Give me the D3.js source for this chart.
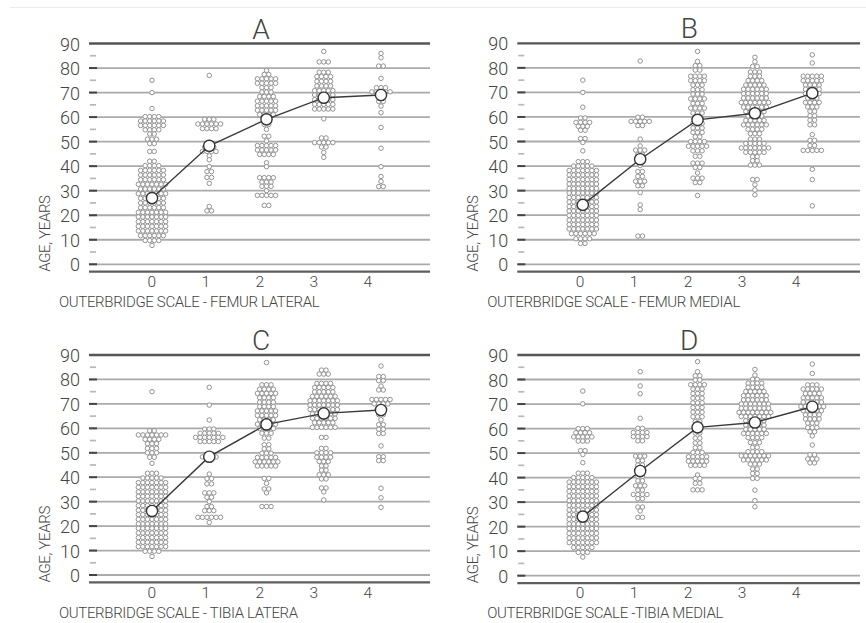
<!DOCTYPE html>
<html>
<head>
<meta charset="utf-8">
<script src="https://cdn.jsdelivr.net/npm/d3@7"></script>
<style>
  body { margin: 0; background: #fff; }
  svg text { font-family: Roboto, "Helvetica Neue", Arial, sans-serif; font-weight: 300; fill: #444; }
</style>
</head>
<body>
<svg id="chart" width="866" height="623"></svg>
<script>
// Outerbridge grade categories and the age axis
const categories = [0, 1, 2, 3, 4];
const ageTicks = [0, 10, 20, 30, 40, 50, 60, 70, 80, 90];
const ageMinorTicks = [5, 15, 25, 35, 45, 55, 65, 75, 85];

const panelTitles = ["A", "B", "C", "D"];
const axisTitles = [
  "OUTERBRIDGE SCALE - FEMUR LATERAL",
  "OUTERBRIDGE SCALE - FEMUR MEDIAL",
  "OUTERBRIDGE SCALE - TIBIA LATERA",
  "OUTERBRIDGE SCALE -TIBIA MEDIAL"
];
const ageTitle = "AGE, YEARS";

// Mean age per grade
const meanFemurLateral = [27, 48.3, 59.1, 67.9, 69];
const meanFemurMedial  = [24.2, 42.8, 58.8, 61.5, 69.7];
const meanTibiaLateral = [26.2, 48.4, 61.6, 66.1, 67.5];
const meanTibiaMedial  = [24.1, 42.7, 60.5, 62.5, 68.9];

// Individual patients per grade, stacked as [age, number of patients in that row]
const femurLateral = [
  [[75,1],[70,1],[63.5,1],[60.2,4],[58.4,6],[56.6,6],[54.8,4],[53.1,2],[51,3],[49.2,2],[46,2],[42,2],[40.2,4],[38.3,6],[36.4,6],[34.5,6],[32.6,7],[30.7,6],[28.8,7],[26.9,6],[25,6],[23.1,6],[21.2,7],[19.3,7],[17.4,7],[15.5,7],[13.6,7],[11.7,6],[9.7,4],[7.7,1]],
  [[77,1],[59.1,3],[57.2,6],[55.3,4],[49.6,1],[47.8,3],[46,4],[44.2,1],[42.6,1],[39.8,1],[37.8,2],[35.4,2],[33,1],[23.6,1],[21.8,2]],
  [[79,1],[77.4,2],[75.6,5],[73.8,5],[72,3],[70.2,3],[68.4,4],[66.5,5],[64.6,5],[62.8,5],[61,4],[59.2,2],[57,2],[55,1],[52.2,2],[50.3,1],[48.4,5],[46.6,5],[44.8,4],[41.4,1],[39.8,1],[35.3,4],[33.5,3],[31.8,3],[30,1],[28.1,5],[24,2]],
  [[86.8,1],[82.5,3],[78.3,3],[76.5,4],[74.6,4],[72.7,4],[70.8,5],[69,5],[67.1,5],[65.2,5],[63.3,5],[59.3,1],[51.5,2],[49.6,5],[47.8,2],[45.6,1],[43.6,1]],
  [[86,1],[84.2,1],[80.8,2],[75.8,1],[72,3],[70.3,5],[68.4,2],[66.4,2],[64.5,1],[61.8,1],[55.8,1],[47.3,1],[39.8,1],[35.8,1],[33.8,1],[31.7,2]]
];
const femurMedial = [
  [[75,1],[70,1],[64,1],[59.6,2],[57.8,4],[56.2,3],[54.6,2],[51.2,2],[49.6,1],[46.2,1],[41.8,3],[40,5],[38.2,7],[36.4,7],[34.5,7],[32.7,7],[30.9,7],[29,7],[27.2,7],[25.4,7],[23.5,7],[21.7,7],[19.9,7],[18,7],[16.2,7],[14.4,7],[12.5,6],[10.4,4],[8.5,2]],
  [[82.8,1],[59.9,2],[58.2,5],[56.5,2],[51,1],[48.2,1],[46.5,3],[44.7,2],[40.2,1],[37.8,2],[35.8,2],[33.8,3],[32,2],[29.2,1],[24.2,1],[22.3,1],[11.5,2]],
  [[86.7,1],[82.6,1],[80.9,2],[79.1,2],[76.6,4],[74.8,4],[73,3],[71.1,3],[69.3,3],[67.4,4],[65.5,3],[63.6,4],[61.6,3],[59.5,2],[57.4,3],[55.5,3],[53.7,3],[51.9,2],[50,4],[48.1,5],[46.2,3],[44,2],[41.2,3],[39.4,2],[37.2,1],[35.1,3],[33.3,2],[28,1]],
  [[84.3,1],[82.5,1],[80.6,2],[78.3,3],[76.6,3],[74.8,4],[73,5],[71.3,6],[69.5,6],[67.7,6],[65.9,7],[64,6],[62.2,5],[60.4,4],[58.6,5],[56.8,6],[55,4],[53.2,3],[51,3],[49.2,5],[47.4,7],[45.6,5],[43.8,2],[42.2,2],[40.4,3],[34.5,2],[32.4,1],[30.3,1],[28.3,1]],
  [[85.3,1],[82,1],[76.6,5],[74.8,5],[73,4],[71.3,4],[69.5,4],[67.7,3],[65.9,4],[64.1,3],[62.3,2],[60.5,2],[58.7,2],[56.8,2],[52.8,1],[50.5,2],[48.4,2],[46.4,5],[38.7,1],[34.5,1],[23.8,1]]
];
const tibiaLateral = [
  [[75,1],[59,2],[57.3,7],[55.5,4],[53.7,3],[51.8,3],[50,3],[48.2,2],[45.7,1],[41.6,3],[39.7,5],[37.8,7],[35.9,7],[34,7],[32.2,7],[30.3,7],[28.4,7],[26.5,7],[24.7,7],[22.8,7],[20.9,7],[19.1,7],[17.2,7],[15.3,7],[13.4,7],[11.6,7],[9.7,4],[7.6,1]],
  [[76.8,1],[69.5,1],[63.4,1],[59.7,3],[58,5],[56.3,7],[54.6,5],[48.3,4],[41.3,1],[39.4,2],[37.3,2],[33.6,3],[31.8,2],[30,1],[28,2],[26.3,3],[23.6,6],[21.5,1]],
  [[86.9,1],[77.8,3],[76,4],[74.3,5],[72.5,4],[70.7,4],[68.9,4],[67.1,5],[65.3,5],[63.5,4],[61.7,5],[59.9,4],[58,3],[56,2],[53.3,2],[51.6,2],[49.8,3],[48.1,5],[46.3,6],[44.6,5],[39.5,2],[37.5,1],[35.2,2],[33.6,1],[28,3]],
  [[83.8,2],[82.2,3],[78.4,4],[76.7,5],[74.9,5],[73.1,6],[71.3,7],[69.5,7],[67.7,7],[65.9,6],[64.1,6],[62.3,5],[60.4,6],[56.3,2],[51.8,2],[50,4],[48.2,4],[46.4,3],[44.6,2],[42.9,2],[41,3],[39.3,2],[35.6,2],[34,1],[30.7,1]],
  [[85.5,1],[81.2,2],[79.5,2],[77.3,1],[75.7,2],[71.8,5],[70,4],[68.3,2],[65.6,2],[63.5,1],[61.5,2],[59.6,2],[57.9,2],[52.8,1],[48.4,2],[46.8,2],[35.5,1],[31.6,1],[27.7,1]]
];
const tibiaMedial = [
  [[75.3,1],[70.1,1],[60,3],[58.3,4],[56.6,5],[54.9,3],[51,2],[49.4,1],[46.1,1],[41.8,3],[40,5],[38.2,7],[36.3,7],[34.4,7],[32.5,7],[30.6,7],[28.7,7],[26.8,7],[24.9,7],[23,7],[21.1,7],[19.2,7],[17.3,7],[15.4,7],[13.5,7],[11.5,5],[9.5,3],[7.6,1]],
  [[83.2,1],[77.4,1],[74.2,1],[64.2,1],[60.1,2],[58.4,4],[56.7,4],[55,2],[48.8,3],[46.9,2],[45.1,2],[40.5,2],[38.7,2],[36.7,3],[34.9,2],[33.1,4],[31.4,2],[28,2],[26.4,1],[23.8,2]],
  [[87.3,1],[83.2,1],[81.5,2],[79.8,2],[77.9,4],[76.1,3],[74.3,3],[72.4,3],[70.5,3],[68.6,3],[66.7,3],[64.8,3],[62.8,2],[60.6,1],[58.2,2],[56.1,2],[54.1,2],[52.2,2],[50.3,3],[48.5,5],[46.7,5],[45,4],[41.1,1],[39.6,2],[37.7,2],[35,3]],
  [[84.1,1],[81.8,1],[80.1,2],[78.5,4],[76.8,4],[75.1,5],[73.4,6],[71.7,6],[70,7],[68.3,7],[66.6,8],[64.9,7],[63.2,5],[61.4,5],[59.7,5],[58,6],[56.3,4],[54.3,3],[52.3,2],[50.6,4],[48.9,7],[47.2,6],[45.5,3],[43.5,2],[41.7,2],[39.7,2],[34.9,1],[30.6,1],[28.1,1]],
  [[86.3,1],[82.5,1],[77.8,3],[76.1,5],[74.3,4],[72.5,5],[70.8,5],[69,6],[67.3,5],[65.6,4],[63.9,4],[62.2,3],[60.4,3],[58.7,2],[57,1],[53.3,1],[49.3,2],[47.6,3],[46,2]]
];

const panelDots = [femurLateral, femurMedial, tibiaLateral, tibiaMedial];
const panelMeans = [meanFemurLateral, meanFemurMedial, meanTibiaLateral, meanTibiaMedial];

// Panel frames: plot left/right edge, pixel row of age 90 and age 0, swarm inset
const frames = [
  { left: 89,    right: 430, top: 43.5, zero: 264.3, swarm: [63, 292] },
  { left: 517.3, right: 860, top: 43.3, zero: 264.3, swarm: [65.5, 295] },
  { left: 89,    right: 430, top: 355,  zero: 575,   swarm: [63, 292] },
  { left: 517.3, right: 860, top: 355,  zero: 575.7, swarm: [65.5, 295] }
];

const svg = d3.select("#chart");
const PITCH = 4.55, DOT_R = 2.25;

// faint border line at the top
svg.append("line").attr("x1", 10).attr("x2", 866).attr("y1", 7.5).attr("y2", 7.5)
  .attr("stroke", "#ececec").attr("stroke-width", 1);

// Place dots of one grade in horizontal rows centred on cx; rows that sit too
// close to the previous one are shifted by half a step so they interlock.
function layoutRows(rows, cx, y) {
  const sorted = rows.map(([age, n]) => ({ age, n, py: y(age) })).sort((a, b) => a.py - b.py);
  const pts = [];
  let prev = null, flip = 1;
  for (const r of sorted) {
    const natural = r.n % 2 ? 0 : 0.5;
    let phase = natural;
    if (prev && Math.abs(r.py - prev.py) < PITCH * 0.85 && prev.phase === phase) {
      phase = phase ? 0 : 0.5;
    }
    r.phase = phase;
    let shift = 0;
    if (phase !== natural) { shift = 0.5 * flip; flip = -flip; }
    for (let i = 0; i < r.n; i++) {
      pts.push({ x: cx + (i - (r.n - 1) / 2 + shift) * PITCH, y: r.py });
    }
    prev = r;
  }
  return pts;
}

frames.forEach((f, p) => {
  const g = svg.append("g");
  const y = d3.scaleLinear().domain([0, 90]).range([f.zero, f.top]);
  const xSwarm = d3.scalePoint().domain(categories).range([f.left + f.swarm[0], f.left + f.swarm[1]]);
  const xLabel = d3.scalePoint().domain(categories).range([f.left + 62.7, f.left + 278.7]);

  // horizontal grid lines
  g.selectAll("line.grid").data(ageTicks).join("line")
    .attr("x1", f.left).attr("x2", f.right)
    .attr("y1", d => y(d)).attr("y2", d => y(d))
    .attr("stroke", d => d === 90 ? "#555" : "#aaaaaa")
    .attr("stroke-width", d => d === 90 ? 2.3 : 1.8);
  // baseline under the plot
  g.append("line").attr("x1", f.left).attr("x2", f.right)
    .attr("y1", y(-3)).attr("y2", y(-3))
    .attr("stroke", "#5e5e5e").attr("stroke-width", 2.3);

  // tick dashes
  g.selectAll("line.major").data(ageTicks.filter(d => d < 90)).join("line")
    .attr("x1", f.left).attr("x2", f.left + 8)
    .attr("y1", d => y(d)).attr("y2", d => y(d))
    .attr("stroke", "#444").attr("stroke-width", 2);
  g.selectAll("line.minor").data(ageMinorTicks).join("line")
    .attr("x1", f.left + 1).attr("x2", f.left + 7)
    .attr("y1", d => y(d)).attr("y2", d => y(d))
    .attr("stroke", "#b8b8b8").attr("stroke-width", 1.7);

  // age tick labels
  g.selectAll("text.ytick").data(ageTicks).join("text")
    .attr("x", f.left - 9).attr("y", d => y(d) + 0.5)
    .attr("text-anchor", "end").attr("dominant-baseline", "central")
    .attr("font-size", 18).text(d => d);

  // grade tick labels
  g.selectAll("text.xtick").data(categories).join("text")
    .attr("x", d => xLabel(d)).attr("y", f.zero + 17.5)
    .attr("text-anchor", "middle").attr("dominant-baseline", "central")
    .attr("font-size", 15.5).text(d => d);

  // titles
  g.append("text").attr("x", f.left + 172).attr("y", f.top - 5)
    .attr("text-anchor", "middle").attr("font-size", 28).attr("fill", "#333")
    .text(panelTitles[p]);
  g.append("text").attr("x", f.left - 30).attr("y", f.zero + 42.5)
    .attr("font-size", 15).attr("letter-spacing", -0.35).text(axisTitles[p]);
  g.append("text")
    .attr("transform", `translate(${f.left - 39},${f.zero + 7.5}) rotate(-90)`)
    .attr("font-size", 15).attr("letter-spacing", -0.35).text(ageTitle);

  // individual patients
  const pts = panelDots[p].flatMap((rows, i) => layoutRows(rows, xSwarm(categories[i]), y));
  g.selectAll("circle.dot").data(pts).join("circle")
    .attr("cx", d => d.x).attr("cy", d => d.y).attr("r", DOT_R)
    .attr("fill", "#fff").attr("stroke", "#939393").attr("stroke-width", 1);

  // mean trend
  const means = panelMeans[p];
  const line = d3.line().x((d, i) => xSwarm(categories[i])).y(d => y(d));
  g.append("path").attr("d", line(means)).attr("fill", "none")
    .attr("stroke", "#3a3a3a").attr("stroke-width", 1.4);
  g.selectAll("circle.mean").data(means).join("circle")
    .attr("cx", (d, i) => xSwarm(categories[i])).attr("cy", d => y(d)).attr("r", 5.6)
    .attr("fill", "#fff").attr("stroke", "#333").attr("stroke-width", 1.4);
});
</script>
</body>
</html>
